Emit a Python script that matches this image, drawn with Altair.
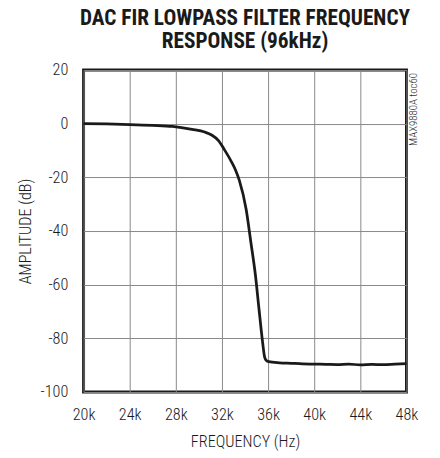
import altair as alt
import pandas as pd

freq_khz = [20, 22, 24, 26, 27.7, 29.4, 30.5, 31.1, 31.7, 32.2, 32.8, 33.2, 33.5,
            34.1, 34.5, 34.9, 35.2, 35.5, 35.7, 35.85, 36.05, 37, 38, 39, 40, 41,
            42, 43, 44, 45, 46, 47, 48]
amp_db = [0, -0.1, -0.3, -0.6, -1.0, -2.1, -3.1, -4.2, -6.3, -9.6, -14.0, -17.5,
          -21, -32, -44, -56.4, -68.6, -80.6, -87.0, -88.3, -88.7, -89.1, -89.3,
          -89.5, -89.6, -89.7, -89.8, -89.6, -89.9, -89.7, -89.8, -89.6, -89.4]
x_ticks = [20, 24, 28, 32, 36, 40, 44, 48]
y_ticks = [-100, -80, -60, -40, -20, 0, 20]
title_lines = ["DAC FIR LOWPASS FILTER FREQUENCY", "RESPONSE (96kHz)"]
side_note = ["MAX9880A toc60"]

df = pd.DataFrame({"f": freq_khz, "a": amp_db})
FONT = "'Roboto Condensed', 'DejaVu Sans Condensed', 'Arial Narrow', Roboto, sans-serif"

x_enc = alt.X("f:Q", scale=alt.Scale(domain=[20, 48], nice=False),
              axis=alt.Axis(values=x_ticks, labelExpr="datum.value + 'k'",
                            title="FREQUENCY (Hz)"))
y_enc = alt.Y("a:Q", scale=alt.Scale(domain=[-100, 20], nice=False),
              axis=alt.Axis(values=y_ticks, labelExpr="datum.value + ''",
                            title="AMPLITUDE (dB)"))

line = alt.Chart(df).mark_line(color="#1a1a1a", strokeWidth=2.8,
                               interpolate="monotone").encode(x=x_enc, y=y_enc)

note = alt.Chart(pd.DataFrame({"t": side_note})).mark_text(
    angle=270, align="right", baseline="middle", font=FONT, fontSize=11,
    fontWeight=300, color="#333333"
).encode(x=alt.value(337), y=alt.value(3), text="t:N")

chart = alt.layer(line, note).properties(
    width=329, height=328,
    autosize=alt.AutoSizeParams(type="none"),
    padding={"left": 77, "top": 59, "right": 26, "bottom": 63},
    title=alt.TitleParams(title_lines, font=FONT, fontSize=21.7, fontWeight="bold",
                          lineHeight=23, anchor="middle", offset=10,
                          color="#1a1a1a"),
).configure_view(
    stroke="#1a1a1a", strokeWidth=3
).configure_axis(
    domain=False, ticks=False, grid=True, gridColor="#888888", gridWidth=1,
    gridOpacity=1, labelFlush=False, labelOverlap=False,
    labelFont=FONT, labelFontSize=16.5, labelFontWeight=300,
    labelColor="#1a1a1a",
    titleFont=FONT, titleFontSize=16.5, titleFontWeight=300,
    titleColor="#1a1a1a"
).configure_axisY(labelPadding=16, titlePadding=7).configure_axisX(
    labelPadding=15, titlePadding=11)

chart.save("out.html", embed_options={"renderer": "svg", "actions": False})
